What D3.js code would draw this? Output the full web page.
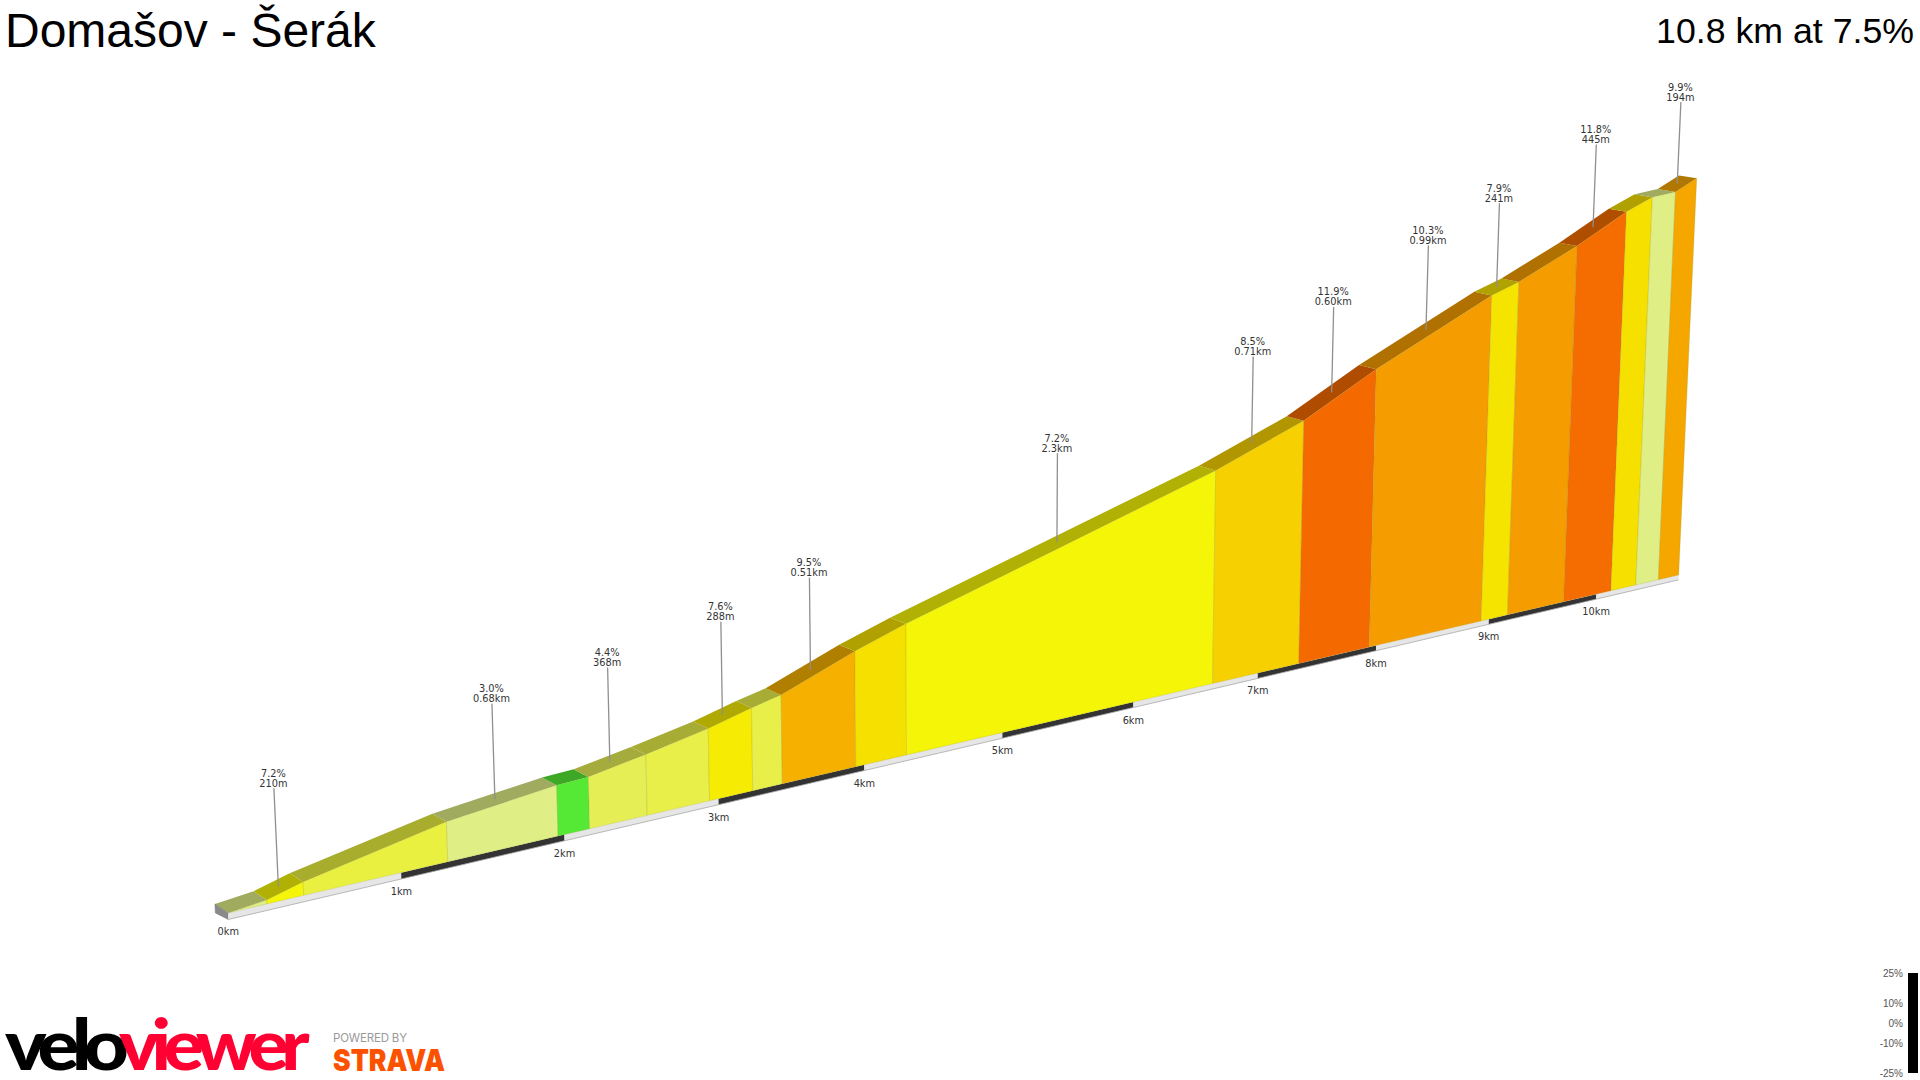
<!DOCTYPE html>
<html>
<head>
<meta charset="utf-8">
<title>Domašov - Šerák</title>
<script src="https://cdnjs.cloudflare.com/ajax/libs/d3/7.8.5/d3.min.js"></script>
<style>
    html, body { margin: 0; padding: 0; background: #fff; }
    svg { display: block; }
</style>
</head>
<body>
<div id="graphic1"></div>
<script>
// segment edges along the climb, km
var segmentKm = [0, 0.22, 0.43, 1.28, 1.96, 2.16, 2.53, 2.94, 3.23, 3.43, 3.94, 4.30,
    6.63, 7.34, 7.94, 8.93, 9.17, 9.69, 10.14, 10.38, 10.60, 10.80];

// height gained at each edge, m
var segmentElev = [0, 6, 21, 64, 83, 85, 101, 121, 140, 151, 199, 228,
    394, 457, 531, 637, 655, 709, 763, 785, 789, 811];

// average grade of each segment, %
var segmentGrade = [3.0, 7.2, 5.5, 3.0, 1.0, 4.4, 5.0, 7.6, 5.0, 9.5, 8.0,
    7.2, 8.5, 11.9, 10.3, 7.9, 10.3, 11.8, 8.0, 3.0, 9.9];

// labelled segments
var labelSegment = [1, 3, 5, 7, 9, 11, 12, 13, 14, 15, 17, 20];
var labelGrade = ["7.2%", "3.0%", "4.4%", "7.6%", "9.5%", "7.2%", "8.5%", "11.9%", "10.3%", "7.9%", "11.8%", "9.9%"];
var labelLength = ["210m", "0.68km", "368m", "288m", "0.51km", "2.3km", "0.71km", "0.60km", "0.99km", "241m", "445m", "194m"];

var kmTicks = [0, 1, 2, 3, 4, 5, 6, 7, 8, 9, 10];
var totalKm = 10.8;
var legendTicks = [25, 10, 0, -10, -25];

var gradeStops = [1, 3, 4.4, 5.5, 7.2, 7.9, 8.5, 9.5, 10.3, 11.9];
var gradeColours = ["#55e835", "#dfee85", "#e6ee55", "#e9f03f", "#f4f507", "#f5e300", "#f6d000", "#f5b000", "#f59d00", "#f56a00"];

function graph1() {

    var width = 1920,
        height = 1080;

    var svg = d3.select("#graphic1").append("svg")
        .attr("width", width)
        .attr("height", height);

    var gradeColour = d3.scaleLinear().domain(gradeStops).range(gradeColours).clamp(true);

    // ground scales before the perspective divide
    var runX = d3.scaleLinear().domain([0, totalKm]).range([0, 1927]),
        runY = d3.scaleLinear().domain([0, totalKm]).range([0, 449]),
        riseY = d3.scaleLinear().domain([0, 811]).range([0, 527]);

    // simple 3D view: km goes away from the camera, lat goes across the road
    function project(km, elev, lat) {
        var w = 1 + 0.0304 * km,
            x = 228 + runX(km) / w,
            y = 913 - runY(km) / w,
            h = riseY(elev) / w;
        y -= h;
        x += (x - 980) * 0.000065 * h;
        var s = lat * 0.0072 / w;
        return [x + (-1587 - x) * s, y + (-343 - y) * s];
    }

    function quad(a, b) {
        return d3.line()(a.concat(b.slice().reverse())) + "Z";
    }

    var baseElev = -10;
    var segments = d3.range(segmentGrade.length);

    // road surface
    svg.append("g").selectAll("path")
        .data(segments)
        .join("path")
        .attr("d", function (i) {
            return quad(
                [project(segmentKm[i], segmentElev[i], 0), project(segmentKm[i + 1], segmentElev[i + 1], 0)],
                [project(segmentKm[i], segmentElev[i], 1), project(segmentKm[i + 1], segmentElev[i + 1], 1)]);
        })
        .attr("fill", function (i) {
            var c = d3.rgb(gradeColour(segmentGrade[i]));
            return d3.rgb(c.r * 0.72, c.g * 0.72, c.b * 0.72);
        });

    // start cap
    svg.append("path")
        .attr("d", quad(
            [project(0, 0, 1), project(0, 0, 0)],
            [project(0, -14, 1), project(0, baseElev, 0)]))
        .attr("fill", "#8a8a8a")
        .attr("stroke", "#777")
        .attr("stroke-width", 0.5);

    // km strip under the wall
    var stripEdges = kmTicks.concat([totalKm]);
    svg.append("g").selectAll("path")
        .data(d3.range(stripEdges.length - 1))
        .join("path")
        .attr("d", function (i) {
            return quad(
                [project(stripEdges[i], 0, 0), project(stripEdges[i + 1], 0, 0)],
                [project(stripEdges[i], baseElev, 0), project(stripEdges[i + 1], baseElev, 0)]);
        })
        .attr("fill", function (i) { return i % 2 ? "#333" : "#e6e6e6"; });

    // bottom edge of the strip
    svg.append("path")
        .attr("d", d3.line()([project(0, baseElev, 0), project(totalKm, baseElev, 0)]))
        .attr("fill", "none")
        .attr("stroke", "#aaa")
        .attr("stroke-width", 0.8);

    // wall
    svg.append("g").selectAll("path")
        .data(segments)
        .join("path")
        .attr("d", function (i) {
            return quad(
                [project(segmentKm[i], 0, 0), project(segmentKm[i + 1], 0, 0)],
                [project(segmentKm[i], segmentElev[i], 0), project(segmentKm[i + 1], segmentElev[i + 1], 0)]);
        })
        .attr("fill", function (i) { return gradeColour(segmentGrade[i]); })
        .attr("stroke", "#8a8a20")
        .attr("stroke-opacity", 0.25)
        .attr("stroke-width", 0.8);

    // km labels
    svg.append("g").selectAll("text")
        .data(kmTicks)
        .join("text")
        .attr("x", function (d) { return project(d, baseElev, 0)[0]; })
        .attr("y", function (d) { return project(d, baseElev, 0)[1] + 16; })
        .attr("text-anchor", "middle")
        .attr("font-family", "'DejaVu Sans', sans-serif")
        .attr("font-size", 9.8)
        .attr("fill", "#333")
        .text(function (d) { return d + "km"; });

    // callouts
    var callout = svg.append("g").selectAll("g")
        .data(labelSegment)
        .join("g");

    function calloutFoot(i) {
        var km = (segmentKm[i] + segmentKm[i + 1]) / 2,
            elev = (segmentElev[i] + segmentElev[i + 1]) / 2;
        return project(km, elev, 0.5);
    }

    function calloutHead(i) {
        var km = (segmentKm[i] + segmentKm[i + 1]) / 2,
            elev = (segmentElev[i] + segmentElev[i + 1]) / 2;
        return project(km, elev + 153 + 1.3 * km, 0.5);
    }

    callout.append("path")
        .attr("d", function (i) {
            return d3.line()([calloutFoot(i), calloutHead(i)]);
        })
        .attr("fill", "none")
        .attr("stroke", "#8f8f8f")
        .attr("stroke-width", 1.3);

    callout.append("text")
        .attr("x", function (i) { return calloutHead(i)[0] - 0.5; })
        .attr("y", function (i) { return calloutHead(i)[1] - 11.5; })
        .attr("text-anchor", "middle")
        .attr("font-family", "'DejaVu Sans', sans-serif")
        .attr("font-size", 9.8)
        .attr("fill", "#333")
        .text(function (i, n) { return labelGrade[n]; });

    callout.append("text")
        .attr("x", function (i) { return calloutHead(i)[0] - 0.5; })
        .attr("y", function (i) { return calloutHead(i)[1] - 1.5; })
        .attr("text-anchor", "middle")
        .attr("font-family", "'DejaVu Sans', sans-serif")
        .attr("font-size", 9.8)
        .attr("fill", "#333")
        .text(function (i, n) { return labelLength[n]; });

    // titles
    svg.append("text")
        .attr("x", 5)
        .attr("y", 47)
        .attr("font-family", "'Liberation Sans', Arial, sans-serif")
        .attr("font-size", 48)
        .attr("fill", "#000")
        .text("Domašov - Šerák");

    svg.append("text")
        .attr("x", 1914)
        .attr("y", 43)
        .attr("text-anchor", "end")
        .attr("font-family", "'Liberation Sans', Arial, sans-serif")
        .attr("font-size", 35.7)
        .attr("fill", "#000")
        .text("10.8 km at 7.5%");

    // grade legend
    var legendY = d3.scaleLinear().domain([25, -25]).range([973, 1073]);

    svg.append("rect")
        .attr("x", 1908)
        .attr("y", legendY(25))
        .attr("width", 10)
        .attr("height", legendY(-25) - legendY(25))
        .attr("fill", "#000");

    var legendAxis = svg.append("g")
        .attr("transform", "translate(1903,0)")
        .call(d3.axisLeft(legendY)
            .tickValues(legendTicks)
            .tickSize(0)
            .tickPadding(0)
            .tickFormat(function (d) { return d + "%"; }));

    legendAxis.select(".domain").remove();
    legendAxis.selectAll("text")
        .attr("font-family", "'Liberation Sans', Arial, sans-serif")
        .attr("font-size", 10)
        .attr("fill", "#555");

    // logos
    svg.append("text")
        .attr("x", 5)
        .attr("y", 1070)
        .attr("textLength", 116)
        .attr("lengthAdjust", "spacingAndGlyphs")
        .attr("letter-spacing", -7)
        .attr("font-family", "Lato, Inter, sans-serif")
        .attr("font-weight", 900)
        .attr("font-size", 70)
        .attr("fill", "#000")
        .text("velo");

    svg.append("text")
        .attr("x", 119)
        .attr("y", 1070)
        .attr("textLength", 183)
        .attr("lengthAdjust", "spacingAndGlyphs")
        .attr("letter-spacing", -7)
        .attr("font-family", "Lato, Inter, sans-serif")
        .attr("font-weight", 900)
        .attr("font-size", 70)
        .attr("fill", "#ff0033")
        .text("viewer");

    svg.append("text")
        .attr("x", 333)
        .attr("y", 1042)
        .attr("textLength", 74)
        .attr("font-family", "Inter, Roboto, sans-serif")
        .attr("font-weight", 400)
        .attr("font-size", 11.5)
        .attr("fill", "#999")
        .text("POWERED BY");

    svg.append("text")
        .attr("x", 333)
        .attr("y", 1071)
        .attr("textLength", 112)
        .attr("lengthAdjust", "spacingAndGlyphs")
        .attr("font-family", "Inter, Roboto, sans-serif")
        .attr("font-weight", 900)
        .attr("font-size", 30)
        .attr("fill", "#fc5200")
        .text("STRAVA");
}

graph1();
</script>
</body>
</html>
